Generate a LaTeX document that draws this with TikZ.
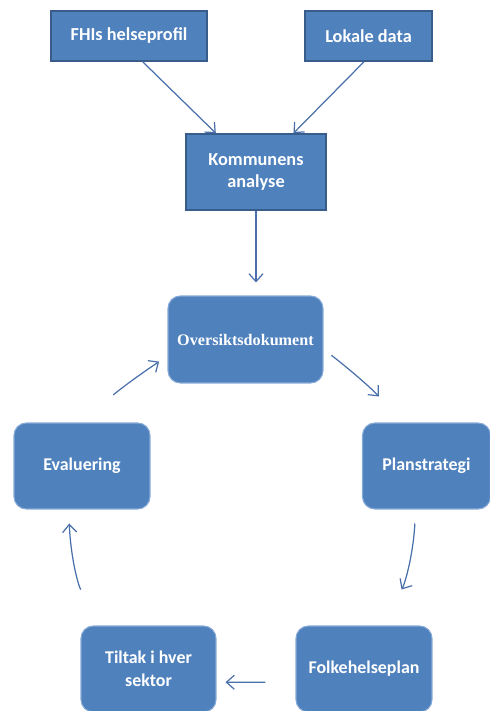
\documentclass[tikz,border=0pt]{standalone}
\usepackage{fontspec}
\setmainfont{Carlito}
\newfontfamily\serifbox{Liberation Serif}
\usetikzlibrary{arrows.meta,positioning}
\definecolor{boxblue}{RGB}{79,129,189}
\definecolor{boxedge}{RGB}{56,93,138}
\definecolor{softedge}{RGB}{135,170,215}
\definecolor{arrowblue}{RGB}{74,112,172}

\begin{document}
\begin{tikzpicture}[x=0.02cm, y=-0.02cm,
    box/.style={rectangle, draw=boxedge, fill=boxblue, line width=0.9pt, text=white, font=\bfseries\fontsize{10.4}{13}\selectfont, align=center, inner sep=2pt},
    roundbox/.style={rectangle, rounded corners=7pt, draw=softedge, fill=boxblue, line width=0.6pt, text=white, font=\bfseries\fontsize{10.2}{13}\selectfont, align=center, minimum height=1.72cm},
    arrow/.style={-{Straight Barb[length=4.5pt,width=8pt]}, line width=0.7pt, draw=arrowblue}
]
\useasboundingbox (0,0) rectangle (490,711);

\node[box, minimum width=3.12cm, minimum height=1cm] (fhi) at (129,36) {FHIs helseprofil};
\node[box, minimum width=2.54cm, minimum height=1cm] (lokale) at (368.5,36) {Lokale data};
\node[box, minimum width=2.8cm, minimum height=1.52cm] (analyse) at (256,172) {Kommunens\\analyse};

\node[roundbox, minimum width=3.1cm, minimum height=1.74cm, font=\serifbox\bfseries\fontsize{9.2}{11}\selectfont] (overs) at (245.5,339.5) {Oversiktsdokument};
\node[roundbox, minimum width=2.72cm] (eval) at (82,466) {Evaluering};
\node[roundbox, minimum width=2.56cm] (plan) at (426.5,466) {Planstrategi};
\node[roundbox, minimum width=2.7cm] (tiltak) at (148.5,669) {Tiltak i hver\\sektor};
\node[roundbox, minimum width=2.72cm] (folke) at (364,669) {Folkehelseplan};

\draw[arrow] (fhi.-62) -- (analyse.136);
\draw[arrow] (lokale.-100) -- (analyse.46);
\draw[arrow, shorten >=0.26cm] (analyse.south) -- (analyse.south |- overs.north);

\draw[arrow, shorten <=0.2cm, shorten >=0.7cm] (overs.-7) to[bend left=5] (plan.119);
\draw[arrow, shorten <=0.28cm, shorten >=0.84cm] (plan.-104) to[bend left=14] (folke.70);
\draw[arrow, shorten <=0.6cm, shorten >=0.18cm] (folke.-169) -- (tiltak.-11);
\draw[arrow, shorten <=0.8cm, shorten >=0.28cm] (tiltak.139) to[bend left=12] (eval.-107);
\draw[arrow, shorten <=0.8cm, shorten >=0.2cm] (eval.87) to[bend left=5] (overs.-168);
\end{tikzpicture}
\end{document}
